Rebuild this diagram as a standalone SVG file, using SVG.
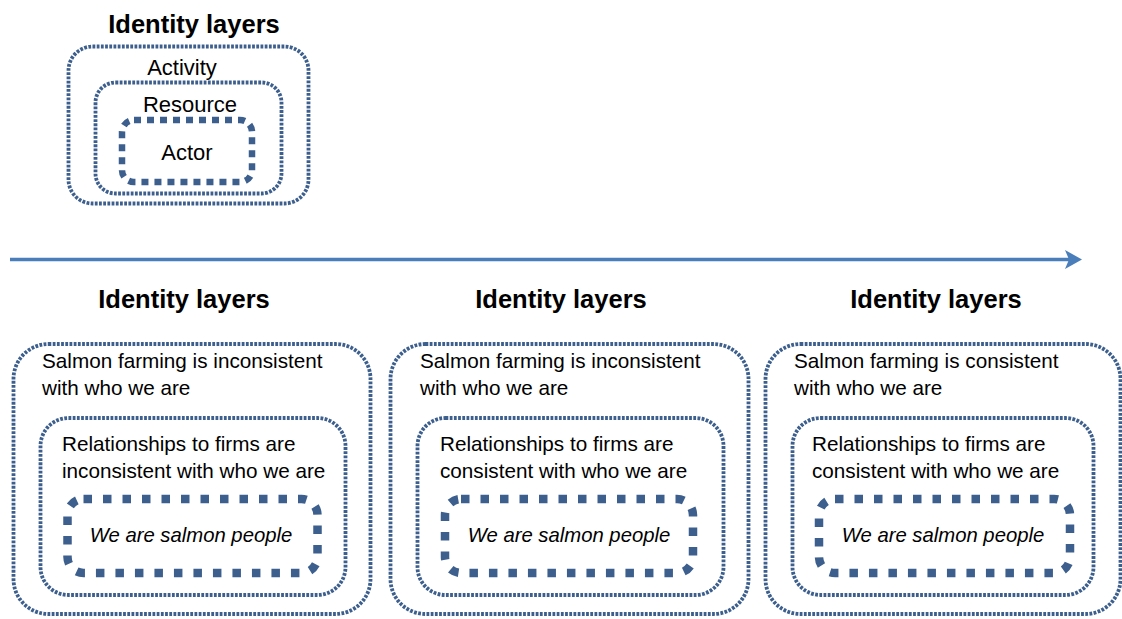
<svg xmlns="http://www.w3.org/2000/svg" width="1122" height="619" viewBox="0 0 1122 619">
<style>
  .bg{fill:#ffffff}
  .thin{fill:none;stroke:#3C5F8E;stroke-width:3.8;stroke-dasharray:2.8 1.4}
  .thick{fill:none;stroke:#3C5F8E;stroke-width:8.5;stroke-dasharray:8.5 11}
  .thickS{fill:none;stroke:#3C5F8E;stroke-width:6.5;stroke-dasharray:7 6}
  .title{font-family:"Liberation Sans",Arial,sans-serif;font-weight:bold;font-size:25.5px;fill:#000;text-anchor:middle}
  .lbl{font-family:"Liberation Sans",Arial,sans-serif;font-size:20.7px;fill:#000}
  .lblT{font-family:"Liberation Sans",Arial,sans-serif;font-size:22px;fill:#000;text-anchor:middle}
  .ital{font-family:"Liberation Sans",Arial,sans-serif;font-size:20.3px;font-style:italic;fill:#000;text-anchor:middle}
</style>
<rect class="bg" x="0" y="0" width="1122" height="619"/>

<g id="legend">
  <text class="title" x="194" y="33">Identity layers</text>
  <rect class="thin" x="68.5" y="46.5" width="240" height="157" rx="24"/>
  <rect class="thin" x="95.5" y="82.5" width="186" height="111" rx="20"/>
  <rect class="thickS" x="122" y="120" width="130" height="62" rx="12"/>
  <text class="lblT" x="182" y="75">Activity</text>
  <text class="lblT" x="190" y="112">Resource</text>
  <text class="lblT" x="187" y="160">Actor</text>
</g>

<g id="connectors">
  <line x1="10" y1="259.5" x2="1076" y2="259.5" stroke="#4A7EBB" stroke-width="3.5"/>
  <path d="M1065,250 L1082,259.5 L1065,269 L1069,259.5 Z" fill="#4A7EBB"/>
</g>

<g id="panel1">
  <text class="title" x="184" y="308">Identity layers</text>
  <rect class="thin" x="13.5" y="344" width="357" height="270" rx="35"/>
  <rect class="thin" x="40.5" y="418" width="305" height="177" rx="28"/>
  <rect class="thick" x="67.5" y="499" width="250" height="74" rx="16"/>
  <text class="lbl" x="42" y="368">Salmon farming is inconsistent</text>
  <text class="lbl" x="42" y="395">with who we are</text>
  <text class="lbl" x="62" y="451">Relationships to firms are</text>
  <text class="lbl" x="62" y="478">inconsistent with who we are</text>
  <text class="ital" x="191" y="542">We are salmon people</text>
</g>

<g id="panel2">
  <text class="title" x="561" y="308">Identity layers</text>
  <rect class="thin" x="390.5" y="344" width="358" height="270" rx="35"/>
  <rect class="thin" x="417.5" y="418" width="306" height="177" rx="28"/>
  <rect class="thick" x="445" y="499" width="248" height="74" rx="16"/>
  <text class="lbl" x="420" y="368">Salmon farming is inconsistent</text>
  <text class="lbl" x="420" y="395">with who we are</text>
  <text class="lbl" x="440" y="451">Relationships to firms are</text>
  <text class="lbl" x="440" y="478">consistent with who we are</text>
  <text class="ital" x="569" y="542">We are salmon people</text>
</g>

<g id="panel3">
  <text class="title" x="936" y="308">Identity layers</text>
  <rect class="thin" x="765.5" y="344" width="355" height="270" rx="35"/>
  <rect class="thin" x="792.5" y="418" width="301" height="177" rx="28"/>
  <rect class="thick" x="819" y="499" width="251" height="74" rx="16"/>
  <text class="lbl" x="794" y="368">Salmon farming is consistent</text>
  <text class="lbl" x="794" y="395">with who we are</text>
  <text class="lbl" x="812" y="451">Relationships to firms are</text>
  <text class="lbl" x="812" y="478">consistent with who we are</text>
  <text class="ital" x="943" y="542">We are salmon people</text>
</g>
</svg>
